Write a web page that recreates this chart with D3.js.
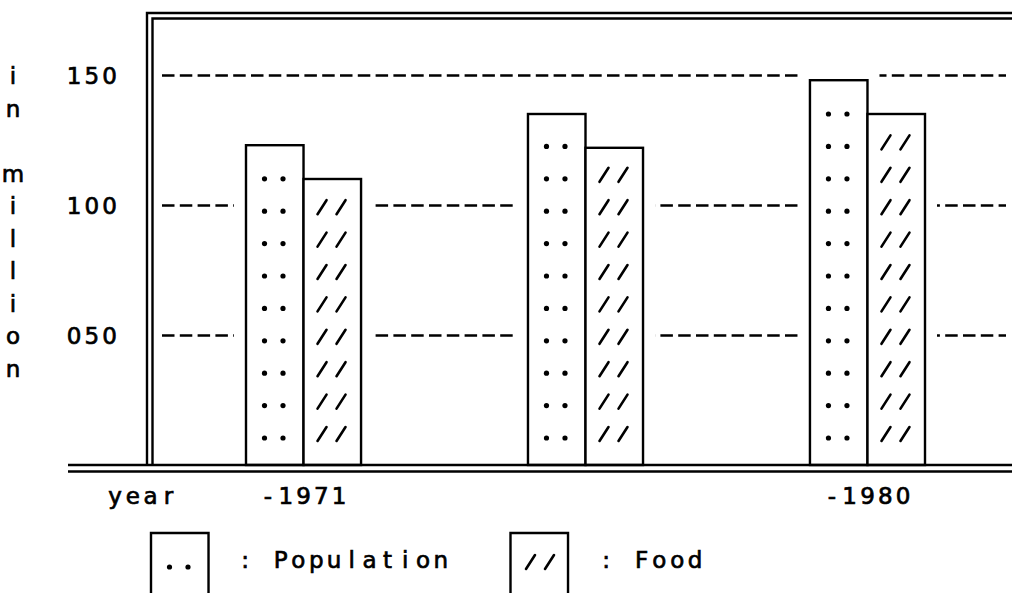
<!DOCTYPE html>
<html>
<head>
<meta charset="utf-8">
<script src="https://cdnjs.cloudflare.com/ajax/libs/d3/7.8.5/d3.min.js"></script>
<style>
  body { margin: 0; background: #fff; }
  text { font-family: "DejaVu Sans", sans-serif; font-size: 23px; fill: #000; stroke: #000; stroke-width: 0.7px; }
</style>
</head>
<body>
<div id="chart"></div>
<script>

var years = ["1971", "1975", "1980"];
var yearLabels = ["-1971", "", "-1980"];
var population = [123, 135, 148];
var food = [110, 122, 135];
var yTicks = [50, 100, 150];
var series = ["Population", "Food"];
var yTitle = "in million";

var W = 1012, H = 593;
var cw = 17.8;     // width of one character cell
var rowH = 32.4;   // pitch of the fill-pattern rows
var lw = 2.4;

var svg = d3.select("#chart")
    .append("svg")
    .attr("width", W)
    .attr("height", H);

var y = d3.scaleLinear().domain([0, 150]).range([465, 75]);

var x = d3.scaleBand()
    .domain(years)
    .range([246, 925])
    .paddingInner(0.592)
    .paddingOuter(0);

var xs = d3.scaleBand().domain(series).range([0, x.bandwidth()]);

// put every character in its own fixed-width cell, like the old printer font
function spread(sel, start) {
    sel.each(function () {
        var t = d3.select(this), s = t.text();
        var x0 = typeof start === "function" ? start(s) : start;
        t.attr("x", d3.range(s.length).map(function (i) { return x0 + i * cw; }).join(" "))
         .attr("text-anchor", "middle");
    });
}

var bars = [];
years.forEach(function (yr, i) {
    bars.push({ year: yr, key: "Population", v: population[i] });
    bars.push({ year: yr, key: "Food", v: food[i] });
});

// dashed grid lines
var grid = svg.append("g")
    .attr("transform", "translate(162,0)")
    .call(d3.axisLeft(y).tickValues(yTicks).tickSize(-844).tickFormat(""));
grid.select(".domain").remove();
grid.selectAll("line")
    .attr("stroke", "#000")
    .attr("stroke-width", lw)
    .attr("stroke-dasharray", "12.5 5.3");

// the grid stops short of each bar
svg.append("g")
    .selectAll("rect")
    .data(bars).enter()
    .append("rect")
    .attr("x", function (d) { return x(d.year) + xs(d.key) - 12; })
    .attr("width", xs.bandwidth() + 24)
    .attr("y", function (d) { return y(d.v) - 10; })
    .attr("height", function (d) { return y(0) - y(d.v) + 10; })
    .attr("fill", "#fff");

// bars
svg.append("g")
    .selectAll("rect")
    .data(bars).enter()
    .append("rect")
    .attr("x", function (d) { return x(d.year) + xs(d.key); })
    .attr("width", xs.bandwidth())
    .attr("y", function (d) { return y(d.v); })
    .attr("height", function (d) { return y(0) - y(d.v); })
    .attr("fill", "#fff")
    .attr("stroke", "#000")
    .attr("stroke-width", lw);

function rows(d) {
    var out = [];
    for (var r = y(0) - 27; r >= y(d.v) + 28; r -= rowH) out.push(r);
    return out;
}

function drawDots(g, x0, r) {
    [18.5, 37].forEach(function (o) {
        g.append("circle").attr("cx", x0 + o).attr("cy", r).attr("r", 2.6).attr("fill", "#000");
    });
}

function drawSlashes(g, x0, r) {
    [18.5, 37.5].forEach(function (o) {
        g.append("line")
            .attr("x1", x0 + o - 4.5).attr("y1", r + 3)
            .attr("x2", x0 + o + 4.5).attr("y2", r - 11)
            .attr("stroke", "#000").attr("stroke-width", 2.6).attr("stroke-linecap", "round");
    });
}

var fills = svg.append("g");
bars.forEach(function (d) {
    var x0 = x(d.year) + xs(d.key);
    rows(d).forEach(function (r) {
        if (d.key === "Population") drawDots(fills, x0, r);
        else drawSlashes(fills, x0, r);
    });
});

// frame
var frame = svg.append("g")
    .attr("stroke", "#000")
    .attr("stroke-width", lw)
    .attr("fill", "none");
frame.append("path").attr("d", "M147," + y(0) + "V13H" + W);
frame.append("path").attr("d", "M152.5," + y(0) + "V18.5H" + W);
frame.append("path").attr("d", "M68," + y(0) + "H" + W);
frame.append("path").attr("d", "M68," + (y(0) + 6.5) + "H" + W);

// y tick labels
var yAxis = svg.append("g")
    .call(d3.axisLeft(y).tickValues(yTicks).tickSize(0).tickFormat(d3.format("03d")));
yAxis.select(".domain").remove();
yAxis.selectAll("text").attr("dy", null).attr("y", 8);
spread(yAxis.selectAll("text"), 74);

// y title, one letter per row
svg.append("g")
    .selectAll("text")
    .data(yTitle.split("")).enter()
    .append("text")
    .attr("x", 13)
    .attr("y", function (d, i) { return 84 + i * 32.5; })
    .attr("text-anchor", "middle")
    .text(function (d) { return d; });

// x labels
var xAxis = svg.append("g")
    .attr("transform", "translate(0," + y(0) + ")")
    .call(d3.axisBottom(x).tickSize(0).tickFormat(function (d, i) { return yearLabels[i]; }));
xAxis.select(".domain").remove();
xAxis.selectAll("text").attr("dy", null).attr("y", 39);
spread(xAxis.selectAll("text"), function (s) { return -(s.length - 1) / 2 * cw; });

var yearText = svg.append("text").attr("y", y(0) + 39).text("year");
spread(yearText, 115);

// legend
var legend = [
    { key: "Population", x: 151, tx: 245 },
    { key: "Food", x: 510.5, tx: 606 }
];
var lg = svg.append("g");
legend.forEach(function (l) {
    lg.append("path")
        .attr("d", "M" + l.x + "," + (H + 10) + "V533H" + (l.x + xs.bandwidth()) + "V" + (H + 10))
        .attr("fill", "none").attr("stroke", "#000").attr("stroke-width", lw);
    if (l.key === "Population") drawDots(lg, l.x, 567);
    else drawSlashes(lg, l.x + 1.5, 566);
    var t = lg.append("text").attr("y", 568).text(": " + l.key);
    spread(t, l.tx);
});

</script>
</body>
</html>
